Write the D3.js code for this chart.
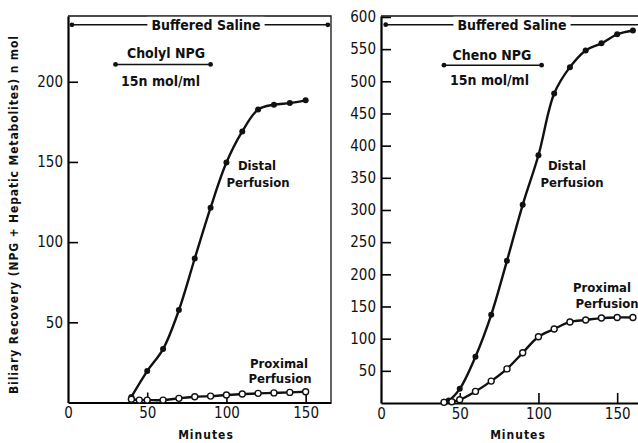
<!DOCTYPE html>
<html>
<head>
<meta charset="utf-8">
<script src="https://cdn.jsdelivr.net/npm/d3@7"></script>
<style>
  html, body { margin: 0; padding: 0; background: #fff; }
  svg { display: block; }
  .lbl { font-family: 'Liberation Sans Narrow', 'DejaVu Sans Condensed', 'Liberation Sans', sans-serif; fill: #111; }
  .tick text { font-family: 'Liberation Sans Narrow', 'DejaVu Sans Condensed', 'Liberation Sans', sans-serif; font-size: 15px; fill: #111; }
</style>
</head>
<body>
<svg id="chart" width="638" height="443"></svg>
<script>
'use strict';

// ── Data ───────────────────────────────────────────────────────────────────
const xTicks       = [0, 50, 100, 150];
const cholylYTicks = [50, 100, 150, 200];
const chenoYTicks  = [50, 100, 150, 200, 250, 300, 350, 400, 450, 500, 550, 600];

// Cholyl NPG (left panel)
const cholylDistalMin   = [40, 50, 60, 70, 80, 90, 100, 110, 120, 130, 140, 150];
const cholylDistal      = [3.5, 19.6, 33.3, 57.6, 89.8, 121.5, 149.6, 169, 182.7, 185.7, 186.7, 188.4];
const cholylProximalMin = [40, 45, 50, 60, 70, 80, 90, 100, 110, 120, 130, 140, 150];
const cholylProximal    = [2, 1.5, 1.5, 1.5, 2.6, 3.6, 4, 4.7, 5.3, 5.7, 6, 6.3, 6.7];

// Cheno NPG (right panel)
const chenoDistalMin   = [40, 43, 50, 60, 70, 80, 90, 100, 110, 120, 130, 140, 150, 160];
const chenoDistal      = [2, 4, 22, 72, 137, 221, 308, 385, 481, 522, 548, 559, 573, 579];
const chenoProximalMin = [40, 45, 50, 60, 70, 80, 90, 100, 110, 120, 130, 140, 150, 160];
const chenoProximal    = [1, 2, 5, 18, 34, 53, 78, 103, 115, 126, 129, 132, 133, 133];

// Infusion periods (minutes)
const salinePeriodLeft  = [2.5, 164];
const salinePeriodRight = [3, 170];
const cholylPeriod = [30, 90];
const chenoPeriod  = [40, 102];

const svg = d3.select('#chart');

// ── Y axis title ───────────────────────────────────────────────────────────
svg.append('text')
  .attr('class', 'lbl')
  .attr('transform', 'translate(14,215) rotate(-90)')
  .attr('text-anchor', 'middle')
  .attr('dominant-baseline', 'central')
  .attr('font-size', 12)
  .attr('font-weight', 'bold')
  .attr('textLength', 358)
  .attr('lengthAdjust', 'spacing')
  .text('Biliary Recovery (NPG + Hepatic Metabolites) n mol');

// ── Panel builder ──────────────────────────────────────────────────────────
function drawPanel(p) {
  const x = d3.scaleLinear().domain([0, p.xMax]).range([p.left, p.right]);
  const y = d3.scaleLinear().domain([0, p.yMax]).range([p.bottom, p.top]);
  const g = svg.append('g');

  // frame (top / right thin)
  g.append('path')
    .attr('d', `M${p.left},${p.top}H${p.right}V${p.bottom}`)
    .attr('fill', 'none').attr('stroke', '#111').attr('stroke-width', 1.3);

  // axes, ticks pointing inward
  g.append('g')
    .attr('transform', `translate(0,${p.bottom})`)
    .call(d3.axisBottom(x).tickValues(xTicks).tickSizeInner(-10).tickSizeOuter(0).tickPadding(5))
    .call(a => a.select('.domain').attr('stroke-width', 2.2))
    .call(a => a.selectAll('.tick line').attr('stroke-width', 1.6))
    .call(a => a.selectAll('.tick').filter(d => d === 0).select('line').remove());

  g.append('g')
    .attr('transform', `translate(${p.left},0)`)
    .call(d3.axisLeft(y).tickValues(p.yTicks).tickSizeInner(-10).tickSizeOuter(0).tickPadding(5))
    .call(a => a.select('.domain').attr('stroke-width', 2.2))
    .call(a => a.selectAll('.tick line').attr('stroke-width', 1.6));

  g.append('text')
    .attr('class', 'lbl')
    .attr('x', p.minutesX).attr('y', 439)
    .attr('text-anchor', 'middle')
    .attr('font-size', 12).attr('font-weight', 'bold').attr('letter-spacing', 1)
    .text('Minutes');

  // period bars with end dots
  function periodBar(range, yVal, label, labelX) {
    const yy = y(yVal);
    g.append('line')
      .attr('x1', x(range[0])).attr('x2', x(range[1]))
      .attr('y1', yy).attr('y2', yy)
      .attr('stroke', '#111').attr('stroke-width', 1.4);
    g.selectAll(null).data(range).join('circle')
      .attr('cx', d => x(d)).attr('cy', yy).attr('r', 2.4).attr('fill', '#111');
    if (label) {
      const t = g.append('text')
        .attr('class', 'lbl')
        .attr('x', labelX).attr('y', yy)
        .attr('text-anchor', 'middle').attr('dominant-baseline', 'central')
        .attr('font-size', 14).attr('font-weight', 'bold')
        .text(label);
      const bb = t.node().getBBox();
      g.insert('rect', () => t.node())
        .attr('x', bb.x - 4).attr('y', bb.y).attr('width', bb.width + 8).attr('height', bb.height)
        .attr('fill', '#fff');
    }
  }
  periodBar(p.saline, p.salineY, 'Buffered Saline', p.salineLabelX);
  periodBar(p.npg, p.npgY, null);

  g.append('text')
    .attr('class', 'lbl').attr('x', p.npgLabelX).attr('y', p.npgLabelY)
    .attr('text-anchor', 'middle').attr('font-size', 14).attr('font-weight', 'bold')
    .text(p.npgName);
  g.append('text')
    .attr('class', 'lbl').attr('x', p.doseX).attr('y', p.doseY)
    .attr('font-size', 14).attr('font-weight', 'bold')
    .text('15n mol/ml');

  // curves
  const line = d3.line().x(d => x(d[0])).y(d => y(d[1])).curve(d3.curveCatmullRom.alpha(0.5));
  const distal = d3.zip(p.distalMin, p.distal);
  const proximal = d3.zip(p.proximalMin, p.proximal);

  [distal, proximal].forEach(s => {
    g.append('path').datum(s).attr('d', line)
      .attr('fill', 'none').attr('stroke', '#111').attr('stroke-width', 2.4);
  });

  g.selectAll(null).data(distal).join('circle')
    .attr('cx', d => x(d[0])).attr('cy', d => y(d[1])).attr('r', 3).attr('fill', '#111');
  g.selectAll(null).data(proximal).join('circle')
    .attr('cx', d => x(d[0])).attr('cy', d => y(d[1])).attr('r', 3)
    .attr('fill', '#fff').attr('stroke', '#111').attr('stroke-width', 1.4);

  // series labels
  p.notes.forEach(n => {
    g.append('text')
      .attr('class', 'lbl').attr('x', n[0]).attr('y', n[1])
      .attr('text-anchor', 'middle').attr('font-size', 13).attr('font-weight', 'bold')
      .text(n[2]);
  });
}

drawPanel({
  left: 68, right: 331, top: 16, bottom: 402.5, xMax: 166, yMax: 241,
  yTicks: cholylYTicks,
  distalMin: cholylDistalMin, distal: cholylDistal,
  proximalMin: cholylProximalMin, proximal: cholylProximal,
  saline: salinePeriodLeft, salineY: 235.5, salineLabelX: 206,
  npg: cholylPeriod, npgY: 210.8, npgName: 'Cholyl NPG', npgLabelX: 166, npgLabelY: 58,
  doseX: 121, doseY: 86,
  minutesX: 206,
  notes: [[257, 170, 'Distal'], [258, 187, 'Perfusion'], [279, 368, 'Proximal'], [280, 383, 'Perfusion']]
});

drawPanel({
  left: 381, right: 640, top: 16, bottom: 403, xMax: 164.5, yMax: 601.5,
  yTicks: chenoYTicks,
  distalMin: chenoDistalMin, distal: chenoDistal,
  proximalMin: chenoProximalMin, proximal: chenoProximal,
  saline: salinePeriodRight, salineY: 588, salineLabelX: 512,
  npg: chenoPeriod, npgY: 525, npgName: 'Cheno NPG', npgLabelX: 492, npgLabelY: 60,
  doseX: 450, doseY: 85,
  minutesX: 518,
  notes: [[567, 170, 'Distal'], [572, 187, 'Perfusion'], [602, 292, 'Proximal'], [607, 308, 'Perfusion']]
});
</script>
</body>
</html>
